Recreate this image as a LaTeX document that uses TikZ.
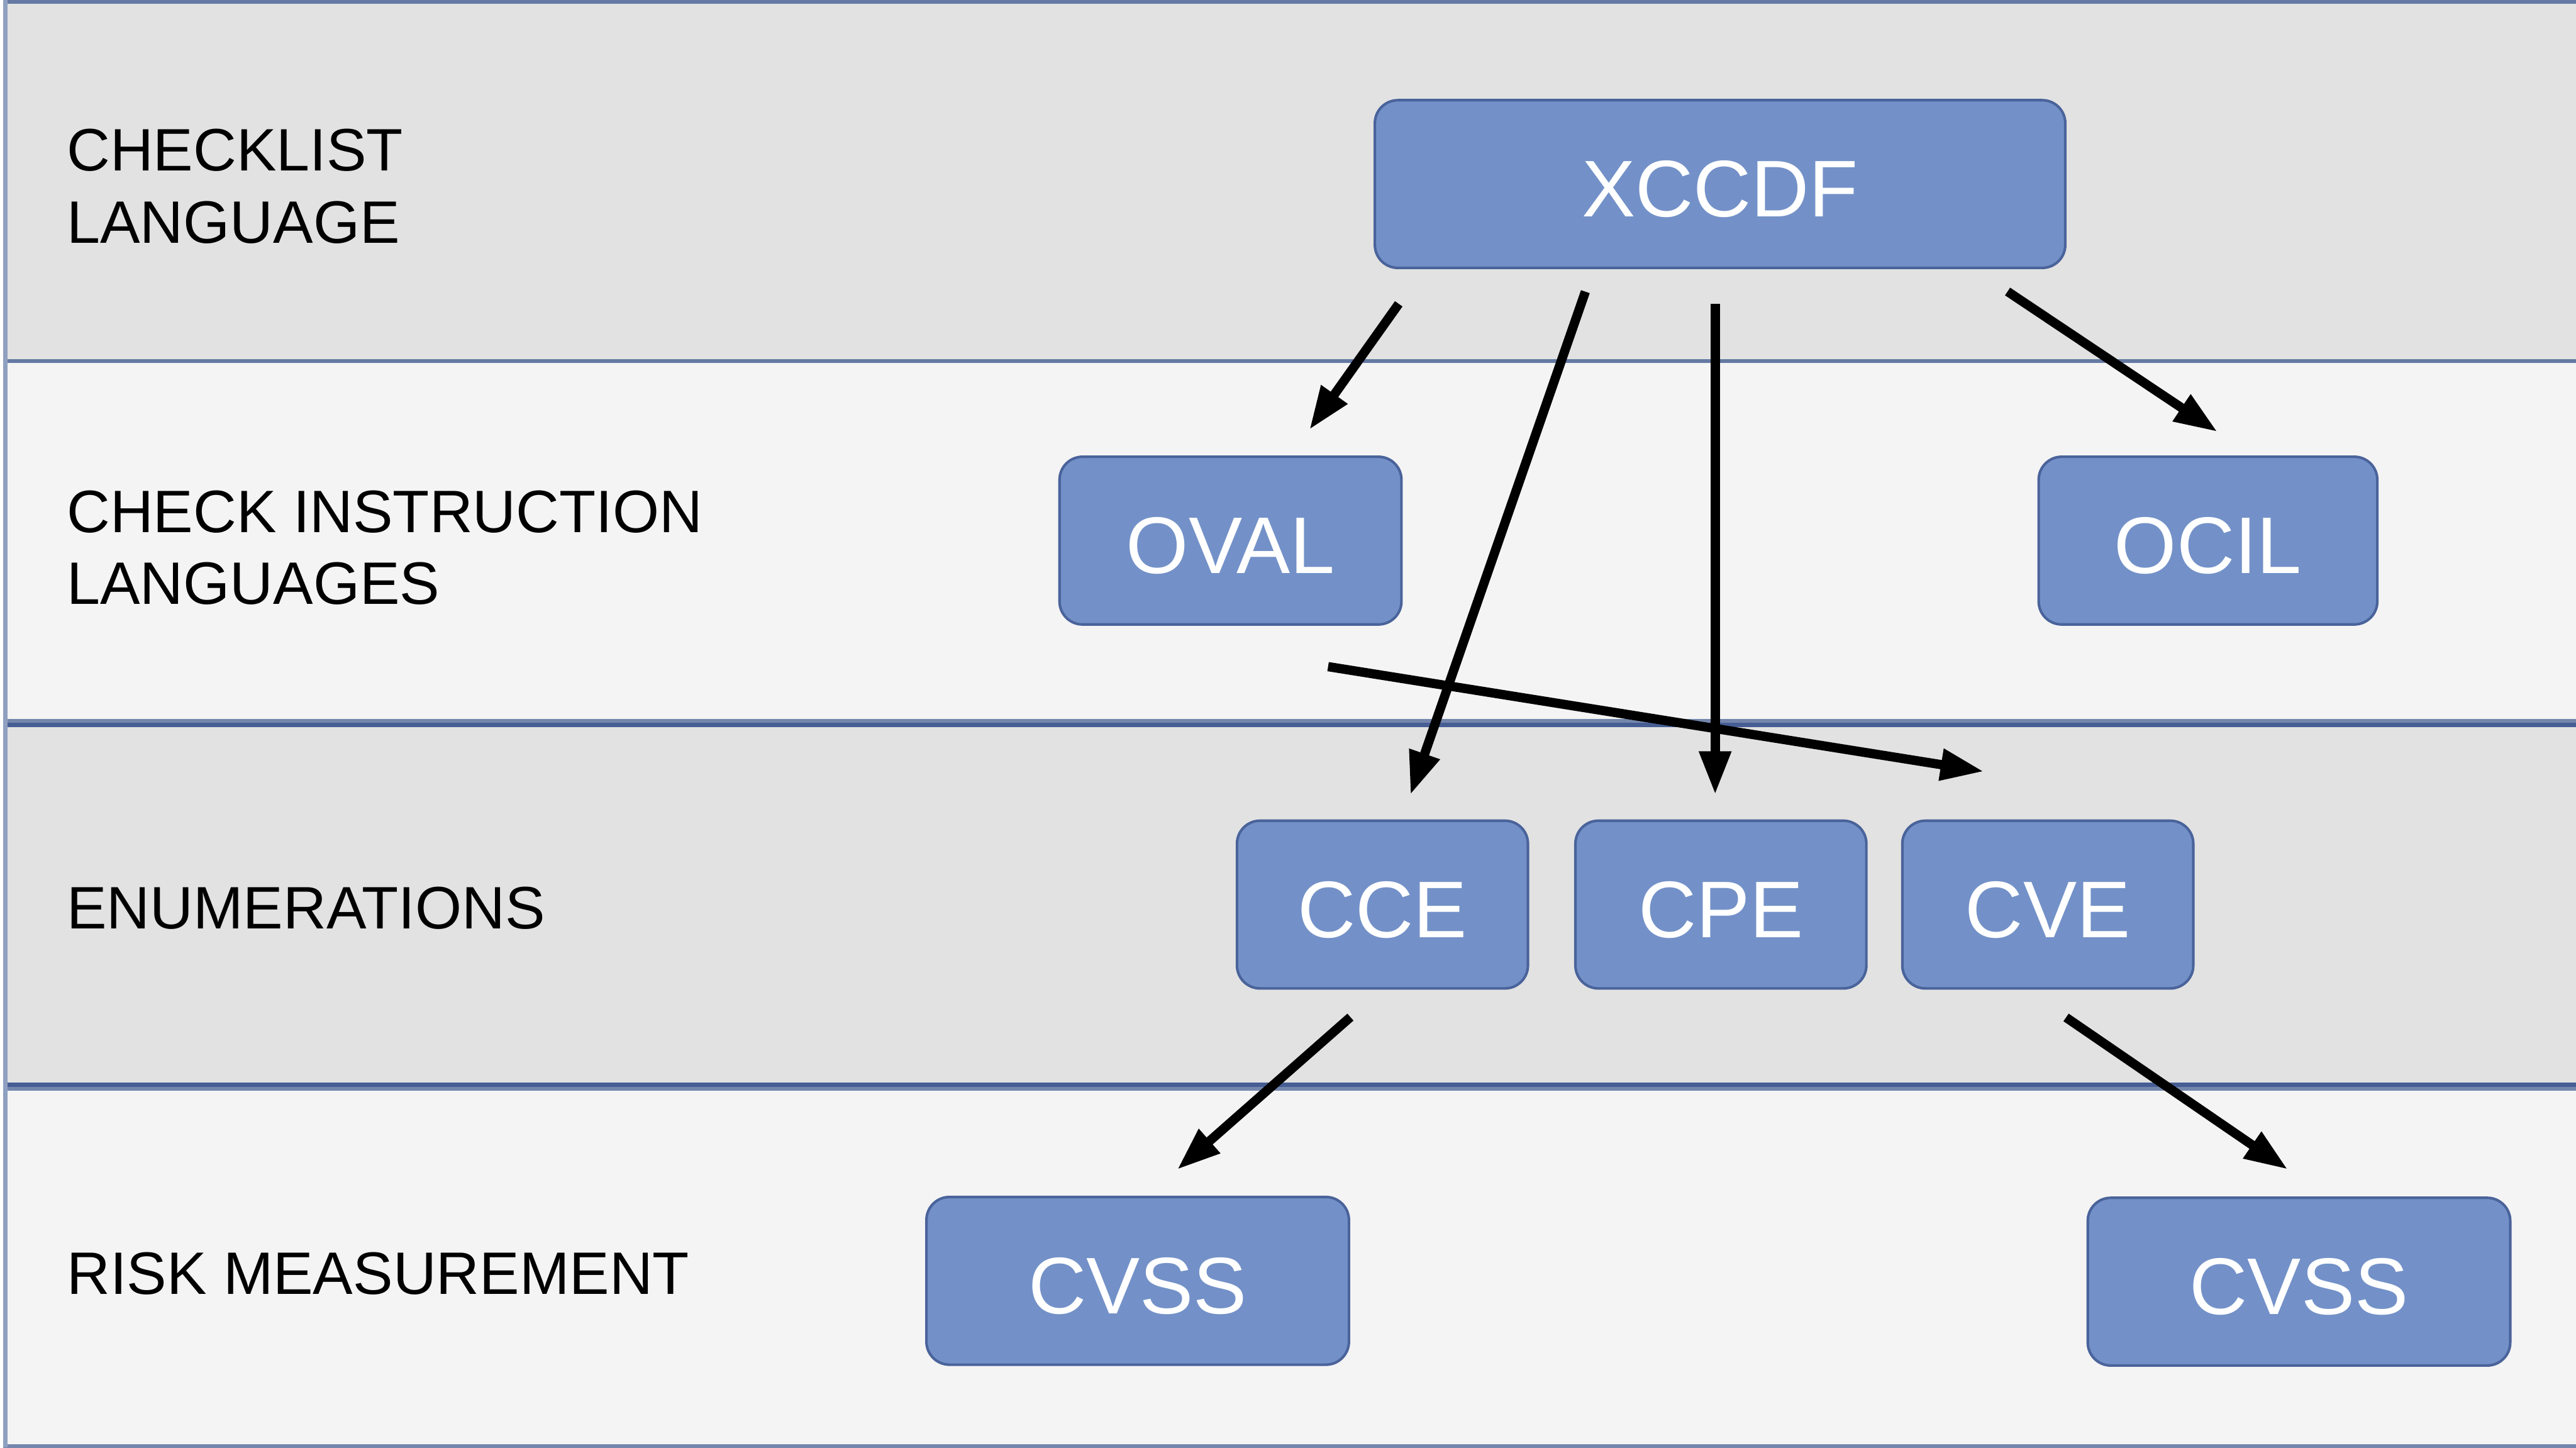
\documentclass[tikz,border=0pt]{standalone}
\usepackage{fontspec}
\setmainfont{Liberation Sans}
\usetikzlibrary{arrows.meta}
\definecolor{bandA}{HTML}{E2E2E2}
\definecolor{bandB}{HTML}{F4F4F4}
\definecolor{edgeOne}{HTML}{6479A3}
\definecolor{edgeLight}{HTML}{7486AC}
\definecolor{edgeDark}{HTML}{465E94}
\definecolor{edgeLeft}{HTML}{8FA0C0}
\definecolor{boxfill}{HTML}{7391C8}
\definecolor{boxedge}{HTML}{4A639B}
\begin{document}
\begin{tikzpicture}[x=0.01cm,y=-0.01cm,
  bandbox/.style={line width=0.7pt},
  blk/.style={draw=boxedge, fill=boxfill, line width=0.45pt, rounded corners=0.14cm,
    text=white, font=\fontsize{13.9}{16}\selectfont, inner sep=0pt,
    minimum height=1.02cm, text height=11.4pt, text depth=0pt},
  lbl/.style={anchor=base west, inner sep=0pt, font=\fontsize{10.37}{12.5}\selectfont},
  conn/.style={line width=1.6pt, -{Triangle[length=7.5pt,width=5.2pt]}}]
\useasboundingbox (0,0) rectangle (1568,881);
\clip (0,0) rectangle (1568,881);
% bands
\path[bandbox, fill=bandB, draw=edgeLight] (3.2,219.8) rectangle (1620,438.6);
\path[bandbox, fill=bandA, draw=edgeOne] (3.2,1) rectangle (1620,219.8);
\path[bandbox, fill=bandA, draw=edgeDark] (3.2,441.2) rectangle (1620,660.2);
\path[bandbox, fill=bandB, draw=edgeLight] (3.2,662.6) rectangle (1620,880.2);
\draw[edgeLeft, line width=0.7pt] (3.2,0) -- (3.2,881);
% labels
\node[lbl] (l1a) at (40,103.9) {CHECKLIST};
\node[lbl] (l1b) at (40,147.8) {LANGUAGE};
\node[lbl] (l2a) at (40,324) {CHECK INSTRUCTION};
\node[lbl] (l2b) at (40,367.5) {LANGUAGES};
\node[lbl] (l3) at (40,565.3) {ENUMERATIONS};
\node[lbl] (l4) at (40,787.8) {RISK MEASUREMENT};
% boxes
\node[blk, minimum width=4.2cm] (xccdf) at (1047,112) {XCCDF};
\node[blk, minimum width=2.08cm] (oval) at (749,329) {OVAL};
\node[blk, minimum width=2.06cm] (ocil) at (1344,329) {OCIL};
\node[blk, minimum width=1.77cm] (cce) at (841.5,550.5) {CCE};
\node[blk, minimum width=1.77cm] (cpe) at (1047.5,550.5) {CPE};
\node[blk, minimum width=1.77cm] (cve) at (1246.5,550.5) {CVE};
\node[blk, minimum width=2.57cm] (cvssL) at (692.5,779.5) {CVSS};
\node[blk, minimum width=2.57cm] (cvssR) at (1399.4,780) {CVSS};
% connector end points
\coordinate (xovS) at (851.4,184.9);
\coordinate (xovE) at (797,261.5);
\coordinate (xcceS) at (965,177.5);
\coordinate (xcceE) at (858.5,483.7);
\coordinate (xcpeS) at (1044,184.9);
\coordinate (xcpeE) at (1044,483.6);
\coordinate (xocS) at (1222,177.4);
\coordinate (xocE) at (1349.8,262.8);
\coordinate (ovcveS) at (808.4,405.7);
\coordinate (ovcveE) at (1207.6,469.5);
\coordinate (ccecvS) at (822,619);
\coordinate (ccecvE) at (716.5,711.8);
\coordinate (cvecvS) at (1257.6,619.2);
\coordinate (cvecvE) at (1392.6,711.7);
% connectors
\draw[conn] (xovS) -- (xovE);
\draw[conn] (xcceS) -- (xcceE);
\draw[conn] (xcpeS) -- (xcpeE);
\draw[conn] (xocS) -- (xocE);
\draw[conn] (ovcveS) -- (ovcveE);
\draw[conn] (ccecvS) -- (ccecvE);
\draw[conn] (cvecvS) -- (cvecvE);
\end{tikzpicture}
\end{document}
